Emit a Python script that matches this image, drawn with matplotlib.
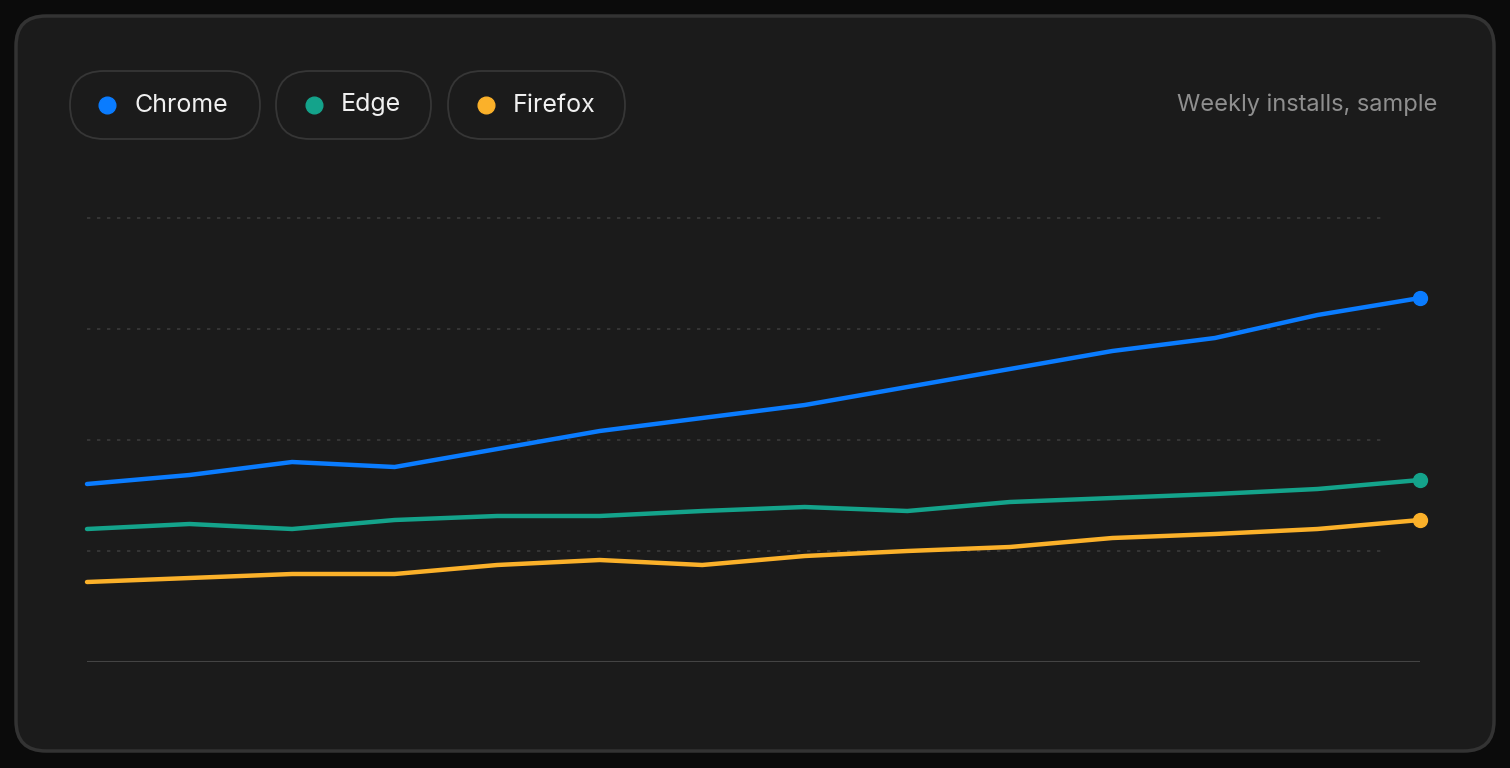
import matplotlib
matplotlib.use("Agg")
import matplotlib.pyplot as plt
from matplotlib.patches import FancyBboxPatch

weeks = list(range(1, 15))
chrome = [178,187,200,195,213,231,244,257,275,293,311,324,347,364]
edge = [133,138,133,142,146,146,151,155,151,160,164,168,173,182]
firefox = [80,84,88,88,97,102,97,106,111,115,124,128,133,142]
series = [("Chrome", chrome, "#0a7cff"), ("Edge", edge, "#14a38b"), ("Firefox", firefox, "#fbb12a")]

W, H = 1510, 768
fig = plt.figure(figsize=(W/100, H/100), dpi=100)
fig.patch.set_facecolor("#0b0b0b")
plt.rcParams['font.family'] = ['Inter', 'DejaVu Sans']

bg = fig.add_axes([0, 0, 1, 1], zorder=0)
bg.set_xlim(0, W); bg.set_ylim(H, 0); bg.axis("off")
bg.add_patch(FancyBboxPatch((16, 16), 1478, 735, boxstyle="round,pad=0,rounding_size=30",
                            facecolor="#1b1b1b", edgecolor="#333333", lw=2.5))

pills = [(70, 190, 107, 134), (276, 155, 314, 341), (448, 177, 486, 513)]
for (name, _, c), (x0, w, dx, tx) in zip(series, pills):
    bg.add_patch(FancyBboxPatch((x0, 71), w, 68, boxstyle="round,pad=0,rounding_size=34",
                                facecolor="#1b1b1b", edgecolor="#363636", lw=1.3))
    bg.plot(dx, 105, "o", color=c, ms=12)
    bg.text(tx, 105, name, color="#f0f0f0", fontsize=18, ha="left", va="center")
bg.text(1437, 105, "Weekly installs, sample", color="#8f8f8f", fontsize=17, ha="right", va="center")

ax = fig.add_axes([87/W, (768-662)/H, (1420-87)/W, 444/H], zorder=1)
ax.set_facecolor("none")
ax.set_xlim(1, 14)
ax.set_ylim(0, 444)
for g in [111, 222, 333, 444]:
    ax.axhline(g, color="#3a3a3a", lw=1.2, ls=(0, (2, 4)), xmax=0.975, clip_on=False)
ax.axhline(0, color="#444444", lw=1.5)
for name, vals, c in series:
    ax.plot(weeks, vals, color=c, lw=3.2, solid_capstyle="round", clip_on=False)
    ax.plot(weeks[-1], vals[-1], "o", color=c, ms=10, clip_on=False)
for s in ax.spines.values():
    s.set_visible(False)
ax.set_xticks([]); ax.set_yticks([])
fig.savefig("out.png", dpi=100, facecolor=fig.get_facecolor())
